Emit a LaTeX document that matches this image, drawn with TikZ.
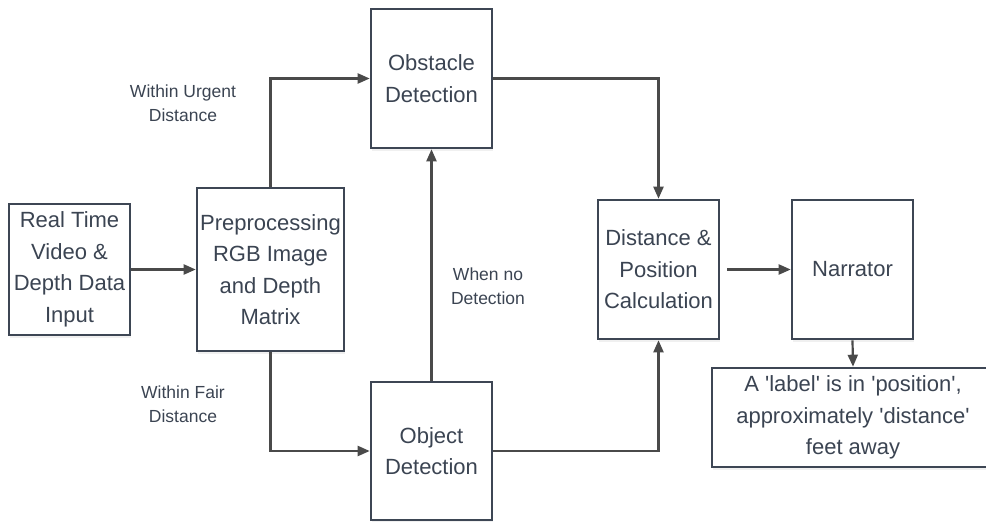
\documentclass[tikz,border=0pt]{standalone}
\usepackage{fontspec}
\setmainfont{Liberation Sans}[Ligatures=TeXOff]
\usetikzlibrary{arrows.meta,shadows}
\definecolor{boxline}{HTML}{3D4654}
\definecolor{txt}{HTML}{3B4452}
\definecolor{arr}{HTML}{4A4A4A}
\begin{document}
\begin{tikzpicture}[x=1pt,y=-1pt,
  blk/.style={draw=boxline, line width=2.6pt, fill=white, inner sep=0pt, align=center,
     text=txt, font=\fontsize{22}{31.5}\selectfont,
     drop shadow={opacity=0.12, shadow xshift=1pt, shadow yshift=-2.5pt}},
  conn/.style={draw=arr, line width=2.2pt, -{Triangle[length=12pt,width=10pt]}},
  lbl/.style={text=txt, align=center, font=\fontsize{17.5}{24}\selectfont}]
\useasboundingbox (0,0) rectangle (986,522);
\node[blk, minimum width=121pt, minimum height=131pt] (inp) at (69.5,269.5) {Real Time\\Video \&\\Depth Data\\Input};
\node[blk, minimum width=147pt, minimum height=163pt] (pre) at (270.5,269.5) {Preprocessing\\RGB Image\\and Depth\\Matrix};
\node[blk, minimum width=121pt, minimum height=139pt] (obs) at (431.5,78.5) {Obstacle\\Detection};
\node[blk, minimum width=121pt, minimum height=138pt] (obj) at (431.5,451) {Object\\Detection};
\node[blk, minimum width=121pt, minimum height=139pt] (dist) at (658.5,269.5) {Distance \&\\Position\\Calculation};
\node[blk, minimum width=121pt, minimum height=139pt] (nar) at (852.5,269.5) {Narrator};
\node[blk, minimum width=282pt, minimum height=99pt] (lab) at (853,417.5) {A 'label' is in 'position',\\approximately 'distance'\\feet away};

\node[lbl] (urg) at (183,103) {Within Urgent\\Distance};
\node[lbl] (fair) at (183,404) {Within Fair\\Distance};
\node[lbl] (when) at (488,286) {When no\\Detection};

\draw[conn] (inp.east) -- (pre.west);
\draw[conn] (pre.north) |- (obs.west);
\draw[conn] (pre.south) |- (obj.west);
\draw[conn] (obj.north) -- (obs.south);
\draw[conn] (obs.east) -| (dist.north);
\draw[conn] (obj.east) -| (dist.south);
\draw[conn, shorten <=7pt] (dist.east) -- (nar.west);
\draw[conn] (nar.south) -- (lab.north);
\end{tikzpicture}
\end{document}
